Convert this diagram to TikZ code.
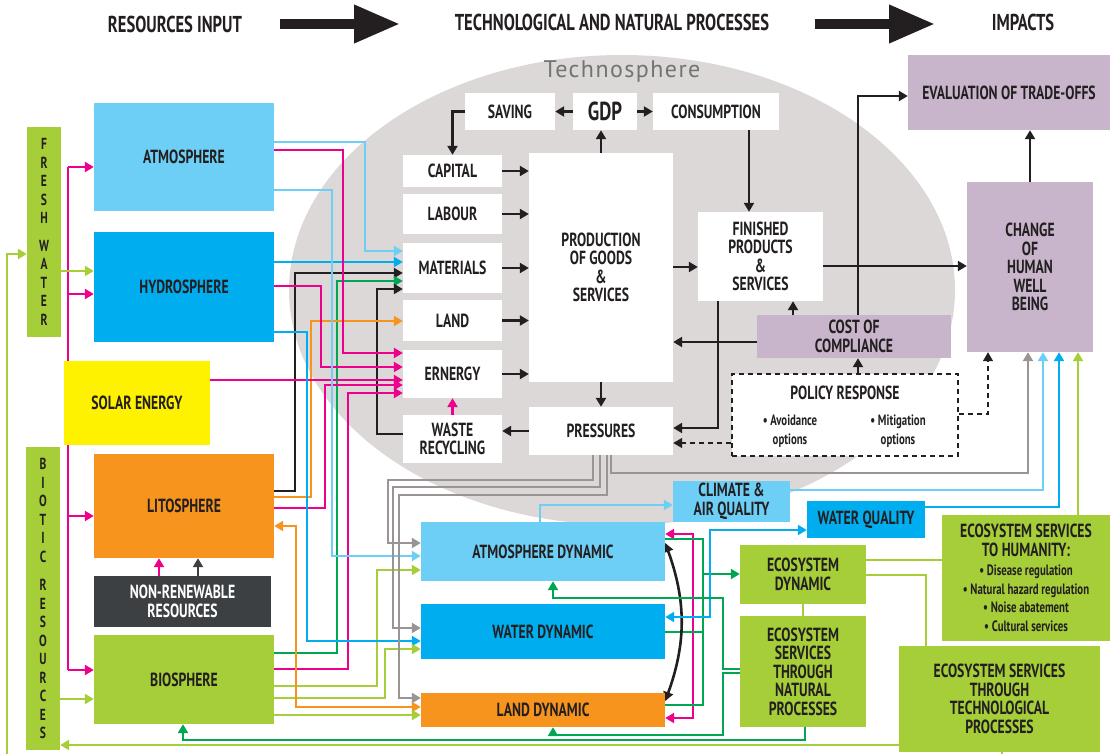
\documentclass[tikz,border=0pt]{standalone}
\usepackage{fontspec}
\setmainfont{PT Sans}[FakeStretch=0.72]
\newfontfamily\techfont{PT Sans}[LetterSpace=6]
\usetikzlibrary{arrows.meta, backgrounds}

\definecolor{cLB}{HTML}{6DCFF6}
\definecolor{cBL}{HTML}{00AEEF}
\definecolor{cPK}{HTML}{EC008C}
\definecolor{cOR}{HTML}{F7941D}
\definecolor{cYE}{HTML}{FFF200}
\definecolor{cGR}{HTML}{A6CE39}
\definecolor{cDG}{HTML}{00A651}
\definecolor{cPU}{HTML}{C8B5CC}
\definecolor{cTS}{HTML}{DCD8D8}
\definecolor{cGY}{HTML}{9B9494}
\definecolor{cDK}{HTML}{3D4043}
\definecolor{cBK}{HTML}{231F20}

\tikzset{
  box/.style={inner sep=0pt, align=center, text=cBK, font=\bfseries\fontsize{19}{18.5}\selectfont},
  sz/.style 2 args={minimum width=#1pt, minimum height=#2pt},
  small/.style={font=\bfseries\fontsize{15}{18.5}\selectfont},
  flow/.style={line width=2.6pt, -{Triangle[length=9pt,width=10pt]}},
  link/.style={line width=2.6pt},
  both/.style={line width=2.6pt, {Triangle[length=9pt,width=10pt]}-{Triangle[length=9pt,width=10pt]}},
  pol/.style={line width=1.3pt, dash pattern=on 5pt off 4pt, cBK, -{Triangle[length=9pt,width=10pt]}},
  title/.style={inner sep=0pt, text=cBK, font=\bfseries\fontsize{23}{24}\selectfont},
  fat/.style={line width=10pt, cBK, -{Triangle[length=46pt,width=36pt]}}
}

\begin{document}
\begin{tikzpicture}[x=1pt, y=-1pt]
  \useasboundingbox (0,0) rectangle (1111,754);

  % headings
  \node[title] (t1) at (175,24) {RESOURCES INPUT};
  \node[title] (t2) at (612,22) {TECHNOLOGICAL AND NATURAL PROCESSES};
  \node[title] (t3) at (1023,22) {IMPACTS};
  \coordinate (a1s) at (280,24);
  \coordinate (a1e) at (400,24);
  \coordinate (a2s) at (815,24);
  \coordinate (a2e) at (935,24);
  \draw[fat] (a1s) -- (a1e);
  \draw[fat] (a2s) -- (a2e);

  \node[text=black!55, font=\techfont\fontsize{24}{24}\selectfont] (techno) at (622,72) {Technosphere};

  % resources
  \node[box, fill=cGR, sz={34}{210}, font=\bfseries\fontsize{16}{18.5}\selectfont] (fresh) at (44,232) {F\\R\\E\\S\\H\\[9pt]W\\A\\T\\E\\R};
  \node[box, fill=cGR, sz={34}{303}, font=\bfseries\fontsize{16}{18.5}\selectfont] (biotic) at (43,598.5) {B\\I\\O\\T\\I\\C\\[10pt]R\\E\\S\\O\\U\\R\\C\\E\\S};
  \node[box, fill=cLB, sz={180}{108}] (atmo) at (184,157) {ATMOSPHERE};
  \node[box, fill=cBL, sz={180}{110}] (hydro) at (184,287) {HYDROSPHERE};
  \node[box, fill=cYE, sz={146}{84}] (solar) at (137,403) {SOLAR ENERGY};
  \node[box, fill=cOR, sz={180}{104}] (lito) at (184,506) {LITOSPHERE};
  \node[box, fill=cDK, text=white, sz={177}{51}] (nonren) at (182.5,601.5) {NON-RENEWABLE\\RESOURCES};
  \node[box, fill=cGR, sz={180}{89}] (bio) at (184,679.5) {BIOSPHERE};

  % technosphere
  \node[box, fill=white, sz={90}{37}] (saving) at (510,111.5) {SAVING};
  \node[box, fill=white, sz={64}{37}, font=\bfseries\fontsize{26}{26}\selectfont] (gdp) at (605,111.5) {GDP};
  \node[box, fill=white, sz={126}{37}] (consum) at (716,111.5) {CONSUMPTION};
  \node[box, fill=white, sz={99}{32}] (capital) at (452.5,171) {CAPITAL};
  \node[box, fill=white, sz={99}{40}] (labour) at (452.5,214) {LABOUR};
  \node[box, fill=white, sz={99}{50}] (materials) at (452.5,268) {MATERIALS};
  \node[box, fill=white, sz={99}{41}] (land) at (452.5,320.5) {LAND};
  \node[box, fill=white, sz={99}{48}] (energy) at (452.5,374) {ERNERGY};
  \node[box, fill=white, sz={99}{48}] (waste) at (452.5,439) {WASTE\\RECYCLING};
  \node[box, fill=white, sz={144}{229}] (production) at (601,267.5) {PRODUCTION\\OF GOODS\\\&\\SERVICES};
  \node[box, fill=white, sz={144}{48}] (pressures) at (601,431) {PRESSURES};
  \node[box, fill=white, sz={125}{89}] (finished) at (760.5,256.5) {FINISHED\\PRODUCTS\\\&\\SERVICES};
  \node[box, fill=cPU, sz={194}{43}] (cost) at (854,336.5) {COST OF\\COMPLIANCE};
  \node[box, fill=white, draw=cBK, line width=1.3pt, dash pattern=on 5pt off 4pt, sz={226}{82}] (policy) at (845,415) {};
  \node[box] (polhead) at (845,393) {POLICY RESPONSE};
  \node[box, small] (avoid) at (790,431) {• Avoidance\\options};
  \node[box, small] (mitig) at (898,431) {• Mitigation\\options};

  % impacts
  \node[box, fill=cPU, sz={202}{75}] (evaluation) at (1009,92.5) {EVALUATION OF TRADE-OFFS};
  \node[box, fill=cPU, sz={126}{170}] (change) at (1030,267) {CHANGE\\OF\\HUMAN\\WELL\\BEING};

  % natural processes
  \node[box, fill=cLB, sz={244}{59}] (atmdyn) at (543,551.5) {ATMOSPHERE DYNAMIC};
  \node[box, fill=cBL, sz={244}{55}] (watdyn) at (543,631.5) {WATER DYNAMIC};
  \node[box, fill=cOR, sz={244}{34}] (landdyn) at (543,710) {LAND DYNAMIC};
  \node[box, fill=cLB, sz={117}{41}] (climate) at (731.5,501.5) {CLIMATE \&\\AIR QUALITY};
  \node[box, fill=cBL, sz={118}{37}] (waterq) at (866,519.5) {WATER QUALITY};
  \node[box, fill=cGR, sz={126}{59}] (ecodyn) at (803,574.5) {ECOSYSTEM\\DYNAMIC};
  \node[box, fill=cGR, sz={126}{111}] (esnat) at (803,671.5) {ECOSYSTEM\\SERVICES\\THROUGH\\NATURAL\\PROCESSES};
  \node[box, fill=cGR, sz={168}{126}] (eshum) at (1026,578) {ECOSYSTEM SERVICES\\TO HUMANITY:\\[1pt]{\fontsize{15}{18.5}\selectfont • Disease regulation}\\{\fontsize{15}{18.5}\selectfont • Natural hazard regulation}\\{\fontsize{15}{18.5}\selectfont • Noise abatement}\\{\fontsize{15}{18.5}\selectfont • Cultural services}};
  \node[box, fill=cGR, sz={201}{106}] (estech) at (999.5,699) {ECOSYSTEM SERVICES\\THROUGH\\TECHNOLOGICAL\\PROCESSES};

  \coordinate (pktop) at (68,167);
  \coordinate (pkbot) at (68,670);
  \coordinate (busA) at (703,574);
  \coordinate (busB) at (703,632);

  \begin{scope}[on background layer]
  \fill[cTS] (622,290) ellipse [x radius=333, y radius=235];

  % solar energy to the spheres
  \draw[link, cPK] (pktop) -- (pkbot);
  \foreach \y/\n in {167/atmo, 294/hydro, 516/lito, 670/bio} {
    \draw[flow, cPK] (pktop |- 0,\y) -- (\n.west |- 0,\y);
  }
  \draw[flow, cPK] (nonren.north -| 159,0) -- (lito.south -| 159,0);
  \draw[flow, cDK] (nonren.north -| 198,0) -- (lito.south -| 198,0);

  % fresh water and biotic resources
  \draw[flow, cGR] (fresh.east |- 0,271) -- (hydro.west |- 0,271);
  \draw[flow, cGR] (biotic.east |- 0,699) -- (bio.west |- 0,699);
  \draw[flow, cGR] (estech.south -| 1002,0) -- ++(0,8) -| (7,254) -- (fresh.west |- 0,254);
  \draw[flow, cGR] (estech.west |- 0,745) -- (biotic.east |- 0,745);
  \draw[flow, cDG] (esnat.south -| 805,0) -- (805,740) -| (bio.south -| 183,0);

  % inputs to the technosphere
  \draw[flow, cLB] (atmo.east |- 0,142) -| (365,251) -- (materials.west |- 0,251);
  \draw[flow, cBL] (hydro.east |- 0,262) -- (materials.west |- 0,262);
  \draw[flow, cBK] (lito.east |- 0,491) -| (295,273) -- (materials.west |- 0,273);
  \draw[flow, cDG] (bio.east |- 0,653) -| (337,281) -- (materials.west |- 0,281);
  \draw[flow, cBK] (waste.west |- 0,434) -| (377,289) -- (materials.west |- 0,289);
  \draw[flow, cOR] (lito.east |- 0,497) -| (311,321) -- (land.west |- 0,321);
  \draw[flow, cPK] (atmo.east |- 0,150) -| (343,353) -- (energy.west |- 0,353);
  \draw[flow, cPK] (hydro.east |- 0,286) -| (321,367) -- (energy.west |- 0,367);
  \draw[flow, cPK] (solar.east |- 0,380) -- (energy.west |- 0,380);
  \draw[flow, cPK] (lito.east |- 0,508) -| (325,385) -- (energy.west |- 0,385);
  \draw[flow, cPK] (bio.east |- 0,669) -| (348,393) -- (energy.west |- 0,393);

  % inputs to the natural dynamics
  \draw[flow, cLB] (atmo.east |- 0,190) -| (332,556) -- (atmdyn.west |- 0,556);
  \draw[flow, cGR] (bio.east |- 0,686) -| (377,570) -- (atmdyn.west |- 0,570);
  \draw[flow, cBL] (hydro.east |- 0,332) -| (307,641) -- (watdyn.west |- 0,641);
  \draw[flow, cGR] (bio.east |- 0,698) -| (385,649) -- (watdyn.west |- 0,649);
  \draw[both, cOR] (lito.east |- 0,526) -| (296,707) -- (landdyn.west |- 0,707);
  \draw[flow, cGR] (bio.east |- 0,715) -- (landdyn.west |- 0,715);
  \draw[flow, cGY] (pressures.south -| 593,0) -- (593,480) -| (388,543) -- (atmdyn.west |- 0,543);
  \draw[flow, cGY] (pressures.south -| 600,0) -- (600,487) -| (393,628) -- (watdyn.west |- 0,628);
  \draw[flow, cGY] (pressures.south -| 607,0) -- (607,495) -| (399,698) -- (landdyn.west |- 0,698);
  \draw[flow, cGY] (pressures.south -| 611,0) -- (611,473) -| (change.south -| 1028,0);

  % technosphere flows
  \draw[flow, cBK] (gdp.west) -- (saving.east);
  \draw[flow, cBK] (gdp.east) -- (consum.west);
  \draw[flow, cBK] (production.north) -- (gdp.south -| production.north);
  \draw[flow, cBK] (saving.west) -| (capital.north);
  \foreach \n in {capital, labour, materials, land, energy} {
    \draw[flow, cBK] (\n.east) -- (production.west |- \n.east);
  }
  \draw[flow, cBK] (consum.south -| 749,0) -- (finished.north -| 749,0);
  \draw[flow, cBK] (production.east |- 0,267) -- (finished.west |- 0,267);
  \draw[flow, cBK] (finished.east |- 0,266) -- (change.west |- 0,266);
  \draw[flow, cBK] (cost.north -| 858,0) |- (evaluation.west |- 0,96);
  \draw[flow, cBK] (cost.north -| 793,0) -- (finished.south -| 793,0);
  \draw[flow, cBK] (cost.west |- 0,342) -- (production.east |- 0,342);
  \draw[flow, cBK] (finished.south -| 718,0) |- (pressures.east |- 0,428);
  \draw[flow, cBK] (policy.north -| 858,0) -- (cost.south -| 858,0);
  \draw[pol] (policy.west |- 0,443) -- (pressures.east |- 0,443);
  \draw[pol] (policy.east |- 0,414) -| (change.south -| 988,0);
  \draw[flow, cBK] (change.north) -- (evaluation.south -| change.north);
  \draw[flow, cBK] (production.south) -- (pressures.north);
  \draw[flow, cBK] (pressures.west) -- (waste.east |- pressures.west);
  \draw[flow, cPK] (waste.north) -- (energy.south);

  % right hand side
  \draw[flow, cLB] (climate.east |- 0,490) -| (change.south -| 1043,0);
  \draw[flow, cBL] (waterq.east |- 0,507) -| (change.south -| 1059,0);
  \draw[flow, cGR] (eshum.north -| 1078,0) -- (change.south -| 1078,0);
  \draw[both, cPK] (atmdyn.east |- 0,534) -| (693,718) -- (landdyn.east |- 0,718);
  \draw[link, cDG] (atmdyn.east |- 0,539) -| (703,705) -- (landdyn.east |- 0,705);
  \draw[link, cDG] (watdyn.east |- busB) -- (busB);
  \draw[flow, cDG] (busA) -- (ecodyn.west |- busA);
  \draw[both, cBK] (atmdyn.east |- 0,543) to[out=-70, in=70] (landdyn.east |- 0,701);
  \draw[both, cBL] (watdyn.east |- 0,617) -| (710,530) -- (waterq.west |- 0,530);
  \draw[flow, cLB] (atmdyn.north -| 540,0) |- (climate.west |- 0,505);
  \draw[flow, cDG] (esnat.west |- 0,669) -| (723,598) -| (atmdyn.south -| 553,0);
  \draw[flow, cDG] (esnat.west |- 0,673) -| (723,735) -| (landdyn.south -| 553,0);
  \draw[link, cGR] (ecodyn.east |- 0,560) -- (eshum.west |- 0,560);
  \draw[link, cGR] (ecodyn.east |- 0,575) -| (estech.north -| 926,0);
  \draw[link, cGR] (ecodyn.south) -- (esnat.north);
  \end{scope}
\end{tikzpicture}
\end{document}
